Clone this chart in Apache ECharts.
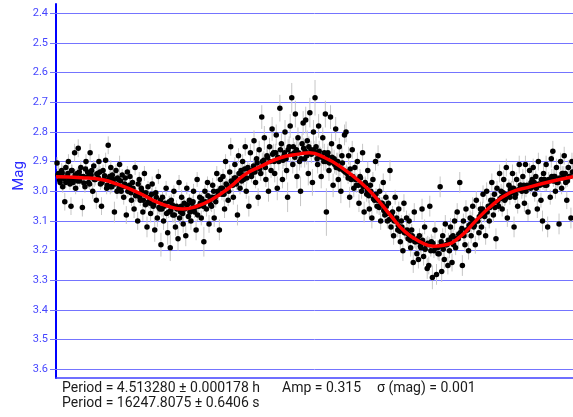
<!DOCTYPE html>
<html>
<head>
<meta charset="utf-8">
<script src="https://cdn.jsdelivr.net/npm/echarts@6/dist/echarts.min.js"></script>
<style>
  html, body { margin: 0; padding: 0; background: #fff; }
  #chart { width: 573px; height: 417px; }
</style>
</head>
<body>
<div id="chart"></div>
<script>
// magnitude ticks on the (inverted) y axis
const magTicks = [2.4, 2.5, 2.6, 2.7, 2.8, 2.9, 3.0, 3.1, 3.2, 3.3, 3.4, 3.5, 3.6];

// fitted light curve (phase, mag)
const fitPhase = [0, 0.05, 0.09, 0.12, 0.16, 0.19, 0.22, 0.245, 0.27, 0.30, 0.335, 0.365, 0.395, 0.434, 0.472, 0.49,
  0.52, 0.55, 0.588, 0.617, 0.646, 0.675, 0.704, 0.73, 0.75, 0.782, 0.81, 0.84, 0.878, 0.917, 0.955, 1.0];
const fitMag = [2.951, 2.954, 2.961, 2.977, 3.005, 3.032, 3.052, 3.060, 3.052, 3.029, 2.988, 2.944, 2.917, 2.887, 2.874, 2.870,
  2.887, 2.917, 2.968, 3.018, 3.079, 3.136, 3.170, 3.185, 3.182, 3.153, 3.103, 3.052, 3.005, 2.985, 2.968, 2.951];

// observations: [phase, mag, error]
const obsWide = [
  [0.002,2.905,0.02],[0.005,2.94,0.03],[0.008,2.97,0.02],[0.011,2.93,0.025],[0.013,2.985,0.02],[0.015,2.955,0.02],[0.017,3.035,0.03],[0.019,2.92,0.02],
  [0.022,2.95,0.02],[0.024,2.9,0.025],[0.027,2.975,0.02],[0.029,3.05,0.03],[0.031,2.93,0.02],[0.034,2.96,0.02],[0.036,2.87,0.03],[0.038,2.99,0.02],
  [0.041,2.94,0.02],[0.043,2.855,0.03],[0.046,2.965,0.02],[0.048,2.92,0.025],[0.051,3.055,0.03],[0.053,2.95,0.02],[0.056,2.985,0.02],[0.058,2.9,0.025],
  [0.061,2.935,0.02],[0.063,2.97,0.02],[0.066,2.87,0.03],[0.068,2.945,0.02],[0.071,3.0,0.025],[0.073,2.915,0.02],[0.076,2.96,0.02],[0.078,3.03,0.03],
  [0.081,2.94,0.02],[0.083,2.9,0.025],[0.086,2.975,0.02],[0.088,3.05,0.03],[0.091,2.93,0.02],[0.093,2.96,0.02],[0.096,2.895,0.025],[0.098,2.99,0.02],
  [0.101,2.845,0.03],[0.104,2.95,0.02],[0.106,2.92,0.025],[0.108,2.985,0.02],[0.111,2.96,0.02],[0.113,3.07,0.035],[0.116,2.93,0.02],[0.118,3.0,0.025],
  [0.121,2.96,0.02],[0.123,2.91,0.03],[0.126,3.0,0.02],[0.128,2.945,0.02],[0.131,3.02,0.025],[0.133,2.975,0.02],[0.136,3.08,0.03],[0.138,2.935,0.02],
  [0.141,2.99,0.02],[0.143,2.95,0.025],[0.146,3.03,0.02],[0.148,2.97,0.02],[0.151,3.06,0.03],[0.153,2.92,0.025],[0.156,3.01,0.02],[0.158,3.1,0.03],
  [0.161,2.96,0.025],[0.163,3.03,0.02],[0.166,3.0,0.02],[0.168,3.07,0.03],[0.171,2.94,0.025],[0.173,3.045,0.02],[0.176,3.12,0.035],[0.178,2.985,0.02],
  [0.181,3.02,0.02],[0.183,3.075,0.03],[0.186,2.975,0.025],[0.188,3.05,0.02],[0.191,3.13,0.04],[0.193,3.005,0.02],[0.196,3.09,0.03],[0.198,2.95,0.025],
  [0.201,3.06,0.02],[0.203,3.18,0.04],[0.206,3.02,0.02],[0.208,3.1,0.03],[0.211,3.04,0.02],[0.213,2.99,0.025],[0.216,3.14,0.04],[0.218,3.07,0.02],
  [0.221,3.19,0.045],[0.223,3.03,0.02],[0.226,3.08,0.025],[0.228,3.0,0.02],[0.231,3.12,0.03],[0.233,3.05,0.02],[0.236,3.16,0.04],[0.238,2.97,0.025],
  [0.241,3.07,0.02],[0.243,3.02,0.025],[0.246,3.11,0.03],[0.248,3.04,0.02],[0.251,3.15,0.035],[0.253,2.99,0.02],[0.256,3.085,0.025],[0.258,3.03,0.02],
  [0.261,3.1,0.03],[0.263,3.04,0.02],[0.266,3.0,0.025],[0.268,3.07,0.02],[0.271,3.13,0.035],[0.273,2.96,0.025],[0.276,3.05,0.02],[0.278,3.02,0.02],
  [0.281,3.09,0.025],[0.283,3.04,0.02],[0.286,3.17,0.05],[0.288,3.0,0.02],[0.291,3.06,0.025],[0.293,2.97,0.02],[0.296,3.11,0.03],[0.298,3.03,0.02],
  [0.301,3.05,0.02],[0.303,2.98,0.025],[0.306,3.09,0.03],[0.308,3.02,0.02],[0.311,2.94,0.025],[0.313,3.0,0.02],[0.316,3.13,0.035],[0.318,2.96,0.02],
  [0.321,3.01,0.02],[0.323,2.95,0.025],[0.326,3.06,0.03],[0.328,2.9,0.025],[0.331,2.98,0.02],[0.333,3.03,0.02],[0.336,2.935,0.025],[0.338,2.85,0.03],
  [0.341,2.97,0.02],[0.343,3.02,0.025],[0.346,2.91,0.025],[0.348,2.955,0.02],[0.351,3.08,0.035],[0.353,2.88,0.025],[0.356,2.99,0.02],[0.358,2.93,0.025],
  [0.361,2.9,0.025],[0.363,2.96,0.02],[0.366,2.85,0.03],[0.368,3.0,0.025],[0.371,2.92,0.02],[0.373,3.05,0.035],[0.376,2.87,0.03],[0.378,2.95,0.02],
  [0.381,2.93,0.025],[0.383,2.83,0.035],[0.386,2.97,0.02],[0.388,2.89,0.03],[0.391,3.02,0.03],[0.393,2.86,0.03],[0.396,2.94,0.025],[0.398,2.75,0.04],
  [0.401,2.91,0.03],[0.403,2.82,0.04],[0.406,2.96,0.025],[0.408,2.88,0.03],[0.411,3.0,0.035],[0.413,2.85,0.03],[0.416,2.93,0.025],[0.418,2.79,0.04],
  [0.421,2.87,0.03],[0.423,2.94,0.03],[0.426,2.81,0.035],[0.428,2.99,0.04],[0.431,2.9,0.03],[0.433,2.72,0.045],[0.436,2.84,0.035],[0.438,2.96,0.03],
  [0.441,2.88,0.035],[0.443,2.8,0.04],[0.446,2.93,0.03],[0.448,3.02,0.05],[0.451,2.85,0.035],[0.453,2.78,0.04],[0.456,2.685,0.05],[0.458,2.91,0.03],
  [0.461,2.87,0.035],[0.463,2.74,0.045],[0.466,2.95,0.04],[0.468,2.82,0.035],[0.471,2.9,0.03],[0.473,3.0,0.05],[0.476,2.84,0.035],[0.478,2.77,0.04],
  [0.481,2.89,0.03],[0.483,2.76,0.045],[0.486,2.83,0.035],[0.488,2.94,0.04],[0.491,2.735,0.05],[0.493,2.86,0.03],[0.496,2.97,0.045],[0.498,2.8,0.04],
  [0.501,2.685,0.06],[0.503,2.85,0.035],[0.506,2.91,0.03],[0.508,2.78,0.04],[0.511,2.88,0.03],[0.513,2.95,0.04],[0.516,2.82,0.035],[0.518,2.9,0.03],
  [0.521,2.74,0.045],[0.523,3.07,0.08],[0.526,2.87,0.03],[0.528,2.93,0.035],[0.531,2.75,0.04],[0.533,2.84,0.035],[0.536,2.98,0.04],[0.538,2.89,0.03],
  [0.541,2.79,0.04],[0.543,2.9,0.03],[0.546,2.96,0.035],[0.548,2.85,0.03],[0.551,3.0,0.04],[0.553,2.88,0.03],[0.556,2.93,0.025],[0.558,2.81,0.035],
  [0.561,2.8,0.035],[0.563,2.94,0.025],[0.566,2.88,0.03],[0.568,3.02,0.035],[0.571,2.96,0.025],[0.573,2.86,0.03],[0.576,2.99,0.03],[0.578,2.92,0.025],
  [0.581,2.98,0.025],[0.583,2.9,0.03],[0.586,3.04,0.03],[0.588,2.95,0.025],[0.591,3.0,0.025],[0.593,2.87,0.03],[0.596,3.07,0.035],[0.598,2.97,0.02],
  [0.601,3.01,0.025],[0.603,2.93,0.03],[0.606,3.06,0.03],[0.608,2.98,0.02],[0.611,3.09,0.035],[0.613,2.96,0.025],[0.616,3.03,0.02],[0.618,2.9,0.03],
  [0.621,3.05,0.025],[0.623,2.88,0.035],[0.626,3.0,0.025],[0.628,3.1,0.03],[0.631,3.04,0.02],[0.633,2.97,0.03],[0.636,3.08,0.025],[0.638,3.02,0.02],
  [0.641,3.1,0.025],[0.643,3.04,0.02],[0.646,2.93,0.035],[0.648,3.12,0.03],[0.651,3.07,0.02],[0.653,3.15,0.03],[0.656,3.02,0.025],[0.658,3.1,0.02],
  [0.661,3.13,0.025],[0.663,3.06,0.025],[0.666,3.17,0.03],[0.668,3.1,0.02],[0.671,3.2,0.035],[0.673,3.04,0.03],[0.676,3.14,0.02],[0.678,3.09,0.025],
  [0.681,3.16,0.025],[0.683,3.1,0.025],[0.686,3.19,0.03],[0.688,3.13,0.02],[0.691,3.24,0.035],[0.693,3.07,0.03],[0.696,3.17,0.025],[0.698,3.21,0.03],
  [0.701,3.23,0.03],[0.703,3.15,0.025],[0.706,3.19,0.025],[0.708,3.06,0.035],[0.711,3.22,0.03],[0.713,3.12,0.025],[0.716,3.18,0.025],[0.718,3.26,0.035],
  [0.721,3.25,0.03],[0.723,3.05,0.035],[0.726,3.17,0.025],[0.728,3.29,0.04],[0.731,3.2,0.025],[0.733,3.13,0.03],[0.736,3.28,0.035],[0.738,3.19,0.025],
  [0.741,3.21,0.025],[0.743,2.985,0.035],[0.746,3.27,0.035],[0.748,3.15,0.025],[0.751,3.23,0.03],[0.753,3.11,0.03],[0.756,3.18,0.025],[0.758,3.25,0.03],
  [0.761,3.2,0.025],[0.763,3.12,0.03],[0.766,3.24,0.03],[0.768,3.15,0.025],[0.771,3.1,0.03],[0.773,3.19,0.025],[0.776,3.07,0.03],[0.778,3.16,0.025],
  [0.781,2.97,0.035],[0.783,3.14,0.025],[0.786,3.25,0.035],[0.788,3.1,0.025],[0.791,3.18,0.025],[0.793,3.06,0.03],[0.796,3.13,0.025],[0.798,3.2,0.03],
  [0.801,3.09,0.025],[0.803,3.15,0.025],[0.806,3.05,0.03],[0.808,3.12,0.02],[0.811,3.18,0.03],[0.813,3.03,0.03],[0.816,3.1,0.02],[0.818,3.14,0.025],
  [0.821,3.06,0.025],[0.823,3.12,0.025],[0.826,3.01,0.03],[0.828,3.08,0.02],[0.831,3.15,0.03],[0.833,3.0,0.03],[0.836,3.05,0.02],[0.838,3.1,0.025],
  [0.841,3.03,0.025],[0.843,2.97,0.03],[0.846,3.08,0.025],[0.848,3.01,0.02],[0.851,3.16,0.035],[0.853,2.99,0.025],[0.856,3.05,0.02],[0.858,2.94,0.03],
  [0.861,3.0,0.025],[0.863,3.06,0.025],[0.866,2.96,0.03],[0.868,3.03,0.02],[0.871,2.92,0.03],[0.873,3.09,0.03],[0.876,2.98,0.02],[0.878,3.02,0.025],
  [0.881,2.99,0.025],[0.883,2.94,0.03],[0.886,3.12,0.035],[0.888,3.02,0.02],[0.891,2.96,0.025],[0.893,3.05,0.025],[0.896,2.91,0.03],[0.898,2.98,0.02],
  [0.901,3.0,0.025],[0.903,2.95,0.025],[0.906,3.04,0.03],[0.908,2.91,0.03],[0.911,2.98,0.02],[0.913,3.07,0.03],[0.916,2.93,0.025],[0.918,2.99,0.02],
  [0.921,2.96,0.025],[0.923,2.92,0.03],[0.926,3.01,0.025],[0.928,2.95,0.02],[0.931,3.06,0.03],[0.933,2.9,0.03],[0.936,2.98,0.02],[0.938,3.03,0.025],
  [0.941,3.1,0.035],[0.943,2.94,0.025],[0.946,2.98,0.02],[0.948,2.91,0.03],[0.951,3.12,0.035],[0.953,2.96,0.025],[0.956,3.02,0.025],[0.958,2.89,0.03],
  [0.961,2.865,0.035],[0.963,2.95,0.025],[0.966,3.0,0.025],[0.968,2.92,0.03],[0.971,2.97,0.02],[0.973,3.11,0.035],[0.976,2.9,0.03],[0.978,2.99,0.02],
  [0.981,2.94,0.025],[0.983,2.88,0.03],[0.986,2.97,0.02],[0.988,3.03,0.03],[0.991,2.92,0.025],[0.993,2.95,0.02],[0.996,3.09,0.035],[0.998,2.9,0.03]
];

const obsCore = [
  [0.004,2.945,0.02],[0.007,2.962,0.02],[0.012,2.938,0.025],[0.016,2.958,0.02],[0.019,2.97,0.02],
  [0.023,2.94,0.02],[0.026,2.96,0.02],[0.03,2.93,0.02],[0.033,2.97,0.025],[0.037,2.945,0.02],
  [0.042,2.965,0.02],[0.045,2.935,0.02],[0.049,2.95,0.025],[0.054,2.972,0.02],[0.057,2.925,0.02],
  [0.062,2.95,0.02],[0.065,2.975,0.02],[0.069,2.93,0.02],[0.074,2.96,0.025],[0.079,2.942,0.02],
  [0.082,2.955,0.02],[0.085,2.935,0.02],[0.089,2.97,0.02],[0.094,2.948,0.025],[0.099,2.98,0.02],
  [0.102,2.96,0.02],[0.105,2.985,0.025],[0.109,2.945,0.02],[0.114,2.975,0.02],[0.119,2.955,0.02],
  [0.122,2.99,0.02],[0.125,2.965,0.02],[0.129,2.985,0.025],[0.134,2.955,0.02],[0.139,3.0,0.02],
  [0.142,2.98,0.02],[0.145,3.005,0.02],[0.149,2.99,0.025],[0.154,3.015,0.02],[0.159,2.975,0.02],
  [0.162,3.02,0.02],[0.165,2.99,0.025],[0.169,3.03,0.02],[0.174,3.005,0.02],[0.179,3.035,0.02],
  [0.182,3.04,0.02],[0.185,3.01,0.02],[0.189,3.045,0.025],[0.194,3.02,0.02],[0.199,3.055,0.02],
  [0.202,3.03,0.02],[0.205,3.06,0.025],[0.209,3.05,0.02],[0.214,3.075,0.02],[0.219,3.035,0.02],
  [0.222,3.065,0.02],[0.225,3.045,0.02],[0.229,3.08,0.025],[0.234,3.06,0.02],[0.239,3.09,0.02],
  [0.242,3.05,0.02],[0.245,3.075,0.025],[0.249,3.06,0.02],[0.254,3.045,0.02],[0.259,3.07,0.02],
  [0.262,3.06,0.02],[0.265,3.035,0.02],[0.269,3.055,0.025],[0.274,3.08,0.02],[0.279,3.04,0.02],
  [0.282,3.025,0.02],[0.285,3.05,0.02],[0.289,3.035,0.025],[0.294,3.015,0.02],[0.299,3.045,0.02],
  [0.302,3.02,0.02],[0.305,3.0,0.025],[0.309,3.035,0.02],[0.314,3.01,0.02],[0.319,2.99,0.02],
  [0.322,2.99,0.02],[0.325,3.01,0.025],[0.329,2.975,0.02],[0.334,3.0,0.02],[0.339,2.965,0.02],
  [0.342,2.98,0.02],[0.345,2.955,0.025],[0.349,2.975,0.02],[0.354,2.94,0.02],[0.359,2.965,0.02],
  [0.362,2.945,0.025],[0.365,2.925,0.02],[0.369,2.955,0.02],[0.374,2.93,0.025],[0.379,2.94,0.02],
  [0.382,2.915,0.025],[0.385,2.935,0.02],[0.389,2.905,0.02],[0.394,2.925,0.025],[0.399,2.9,0.03],
  [0.402,2.895,0.03],[0.405,2.92,0.025],[0.409,2.885,0.03],[0.414,2.9,0.025],[0.419,2.875,0.03],
  [0.422,2.9,0.03],[0.425,2.87,0.03],[0.429,2.885,0.025],[0.434,2.86,0.03],[0.439,2.895,0.03],
  [0.442,2.87,0.03],[0.445,2.89,0.03],[0.449,2.86,0.035],[0.454,2.875,0.03],[0.459,2.85,0.03],
  [0.462,2.885,0.03],[0.465,2.86,0.035],[0.469,2.87,0.03],[0.474,2.89,0.03],[0.479,2.855,0.035],
  [0.482,2.865,0.03],[0.485,2.88,0.03],[0.489,2.85,0.035],[0.494,2.875,0.03],[0.499,2.86,0.03],
  [0.502,2.87,0.03],[0.505,2.89,0.03],[0.509,2.865,0.035],[0.514,2.885,0.03],[0.519,2.87,0.03],
  [0.522,2.9,0.03],[0.525,2.88,0.03],[0.529,2.905,0.025],[0.534,2.885,0.03],[0.539,2.91,0.03],
  [0.542,2.92,0.025],[0.545,2.9,0.03],[0.549,2.925,0.025],[0.554,2.905,0.025],[0.559,2.935,0.02],
  [0.562,2.935,0.025],[0.565,2.955,0.02],[0.569,2.925,0.025],[0.574,2.95,0.02],[0.579,2.96,0.02],
  [0.582,2.96,0.02],[0.585,2.98,0.025],[0.589,2.955,0.02],[0.594,2.985,0.02],[0.599,2.975,0.02],
  [0.602,2.995,0.02],[0.605,3.015,0.025],[0.609,3.0,0.02],[0.614,3.025,0.02],[0.619,3.01,0.02],
  [0.622,3.03,0.02],[0.625,3.055,0.025],[0.629,3.04,0.02],[0.634,3.065,0.02],[0.639,3.05,0.02],
  [0.642,3.075,0.02],[0.645,3.095,0.025],[0.649,3.08,0.02],[0.654,3.1,0.02],[0.659,3.09,0.02],
  [0.662,3.115,0.02],[0.665,3.135,0.025],[0.669,3.12,0.02],[0.674,3.14,0.02],[0.679,3.13,0.02],
  [0.682,3.145,0.025],[0.685,3.165,0.02],[0.689,3.15,0.025],[0.694,3.17,0.02],[0.699,3.16,0.02],
  [0.702,3.17,0.025],[0.705,3.185,0.02],[0.709,3.165,0.025],[0.714,3.195,0.02],[0.719,3.175,0.025],
  [0.722,3.18,0.025],[0.725,3.2,0.02],[0.729,3.175,0.025],[0.734,3.19,0.025],[0.739,3.21,0.02],
  [0.742,3.185,0.025],[0.745,3.17,0.02],[0.749,3.195,0.025],[0.754,3.18,0.02],[0.759,3.165,0.025],
  [0.762,3.17,0.02],[0.765,3.155,0.025],[0.769,3.18,0.02],[0.774,3.16,0.025],[0.779,3.145,0.02],
  [0.782,3.14,0.025],[0.785,3.125,0.02],[0.789,3.15,0.02],[0.794,3.13,0.025],[0.799,3.115,0.02],
  [0.802,3.11,0.02],[0.805,3.095,0.025],[0.809,3.115,0.02],[0.814,3.1,0.02],[0.819,3.085,0.025],
  [0.822,3.075,0.02],[0.825,3.06,0.025],[0.829,3.085,0.02],[0.834,3.07,0.02],[0.839,3.055,0.025],
  [0.842,3.045,0.02],[0.845,3.03,0.025],[0.849,3.055,0.02],[0.854,3.035,0.02],[0.859,3.025,0.025],
  [0.862,3.02,0.02],[0.865,3.005,0.025],[0.869,3.025,0.02],[0.874,3.01,0.02],[0.879,2.995,0.025],
  [0.882,3.005,0.02],[0.885,2.99,0.025],[0.889,3.01,0.02],[0.894,2.995,0.02],[0.899,2.98,0.025],
  [0.902,2.995,0.02],[0.905,2.98,0.025],[0.909,3.0,0.02],[0.914,2.985,0.02],[0.919,2.97,0.025],
  [0.922,2.985,0.02],[0.925,2.97,0.025],[0.929,2.99,0.02],[0.934,2.975,0.02],[0.939,2.96,0.025],
  [0.942,2.975,0.02],[0.945,2.96,0.025],[0.949,2.98,0.02],[0.954,2.965,0.02],[0.959,2.95,0.025],
  [0.962,2.965,0.02],[0.965,2.95,0.025],[0.969,2.97,0.02],[0.974,2.955,0.02],[0.979,2.94,0.025],
  [0.982,2.955,0.02],[0.985,2.94,0.025],[0.989,2.965,0.02],[0.994,2.95,0.02],[0.999,2.935,0.025]
];

const infoPeriodH = 'Period = 4.513280 ± 0.000178 h';
const infoAmp = 'Amp = 0.315';
const infoSigma = 'σ (mag) = 0.001';
const infoPeriodS = 'Period = 16247.8075 ± 0.6406 s';

const observations = obsWide.concat(obsCore);
const fitData = fitPhase.map((p, i) => [p, fitMag[i]]);

const chart = echarts.init(document.getElementById('chart'));

function renderErrorBar(params, api) {
  const x = api.value(0);
  const m = api.value(1);
  const e = api.value(2);
  const top = api.coord([x, m - e]);
  const bottom = api.coord([x, m + e]);
  return {
    type: 'line',
    shape: {x1: top[0], y1: top[1], x2: bottom[0], y2: bottom[1]},
    style: {stroke: '#c6c6c6', lineWidth: 1}
  };
}

const option = {
  animation: false,
  grid: {left: 56, right: 0, top: 4, bottom: 39},
  xAxis: {
    type: 'value',
    min: 0,
    max: 1,
    axisLine: {show: true, onZero: false, lineStyle: {color: '#4040ff', width: 1.5}},
    axisTick: {show: false},
    axisLabel: {show: false},
    splitLine: {show: false}
  },
  yAxis: {
    type: 'value',
    inverse: true,
    min: 2.369,
    max: 3.629,
    axisLine: {show: true, onZero: false, lineStyle: {color: '#0000ff', width: 2}},
    axisTick: {show: true, length: 6, customValues: magTicks, lineStyle: {color: '#7070ff'}},
    axisLabel: {
      customValues: magTicks,
      formatter: v => v.toFixed(1),
      color: '#4646ff',
      fontSize: 11,
      fontFamily: 'Roboto',
      margin: 8
    },
    splitLine: {show: false}
  },
  series: [
    {
      type: 'custom',
      renderItem: renderErrorBar,
      data: observations,
      encode: {x: 0, y: 1},
      z: 2,
      silent: true,
      markLine: {
        silent: true,
        z: 1,
        symbol: 'none',
        label: {show: false},
        lineStyle: {color: '#7474ff', width: 1, type: 'solid'},
        data: magTicks.map(v => ({yAxis: v}))
      }
    },
    {
      type: 'scatter',
      data: observations,
      symbol: 'circle',
      symbolSize: 5.5,
      itemStyle: {color: '#000', opacity: 1},
      z: 3
    },
    {
      type: 'line',
      data: fitData,
      smooth: 0.5,
      symbol: 'none',
      lineStyle: {color: '#ff0000', width: 3.5},
      z: 4
    }
  ],
  graphic: [
    {type: 'text', x: 19, y: 176, rotation: Math.PI / 2,
      style: {text: 'Mag', fill: '#2b2bff', font: '15px Roboto', textAlign: 'center', textVerticalAlign: 'middle'}},
    {type: 'text', x: 62, y: 388,
      style: {text: infoPeriodH, fill: '#1a1a1a', font: '14px Roboto', textVerticalAlign: 'middle'}},
    {type: 'text', x: 282, y: 388,
      style: {text: infoAmp, fill: '#1a1a1a', font: '14px Roboto', textVerticalAlign: 'middle'}},
    {type: 'text', x: 377, y: 388,
      style: {text: infoSigma, fill: '#1a1a1a', font: '14px Roboto', textVerticalAlign: 'middle'}},
    {type: 'text', x: 62, y: 403,
      style: {text: infoPeriodS, fill: '#1a1a1a', font: '14px Roboto', textVerticalAlign: 'middle'}}
  ]
};

chart.setOption(option);
</script>
</body>
</html>
